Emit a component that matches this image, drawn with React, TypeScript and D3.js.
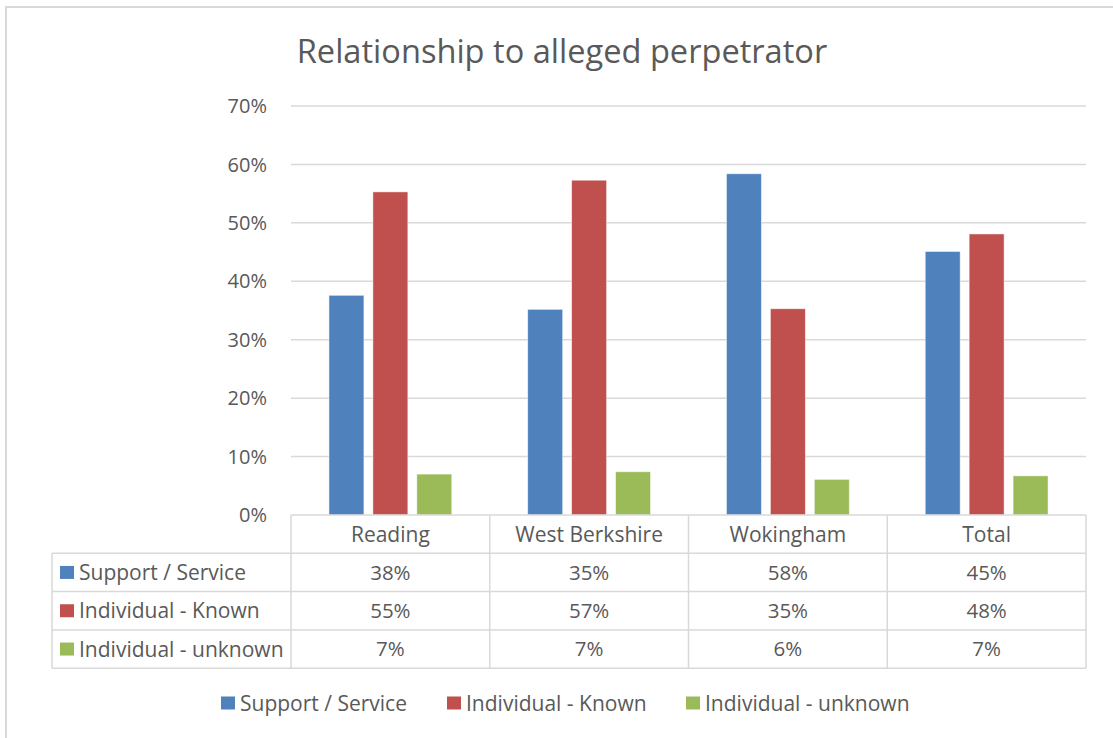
import React from "react";
import * as d3 from "d3";

const title = "Relationship to alleged perpetrator";
const categories = ["Reading", "West Berkshire", "Wokingham", "Total"];
const seriesNames = ["Support / Service", "Individual - Known", "Individual - unknown"];
const seriesColors = ["#4F81BD", "#C0504D", "#9BBB59"];
const supportService = [0.376, 0.352, 0.584, 0.451];
const individualKnown = [0.553, 0.573, 0.353, 0.481];
const individualUnknown = [0.07, 0.074, 0.061, 0.067];
const yTicks = [0, 0.1, 0.2, 0.3, 0.4, 0.5, 0.6, 0.7];

const seriesValues = [supportService, individualKnown, individualUnknown];

const W = 1113;
const H = 738;
const FONT = "'Open Sans', sans-serif";
const TXT = "#595959";
const GRID = "#d9d9d9";

export default function App() {
  const plotLeft = 291;
  const plotRight = 1086;
  const y0 = 515;
  const yTop = 106;
  const tableLeft = 52;
  const rowH = 38.3;

  const x = d3.scaleBand<string>().domain(categories).range([plotLeft, plotRight]).paddingInner(0).paddingOuter(0);
  const xs = d3
    .scaleBand<string>()
    .domain(seriesNames)
    .range([0, x.bandwidth()])
    .paddingInner(0.2045)
    .paddingOuter(0.864);
  const y = d3.scaleLinear().domain([0, 0.7]).range([y0, yTop]);
  const fmt = d3.format(".0%");

  const headerTop = y0;
  const rowTops = [0, 1, 2, 3].map((i) => headerTop + i * rowH);
  const tableBottom = headerTop + 4 * rowH;
  const colEdges = [...categories.map((c) => x(c) as number), plotRight];

  const legendItems = [
    { name: seriesNames[0], x: 221 },
    { name: seriesNames[1], x: 447 },
    { name: seriesNames[2], x: 686 },
  ];

  return (
    <svg width={W} height={H} style={{ display: "block", position: "absolute", left: 0, top: 0 }} fontFamily={FONT}>
      <rect x={0} y={0} width={W} height={H} fill="#fff" />
      <rect x={6} y={7} width={W + 20} height={H + 20} fill="none" stroke={GRID} strokeWidth={2} />
      <text x={562} y={63} textAnchor="middle" fontSize={32.6} fill={TXT}>
        {title}
      </text>

      {yTicks.map((t) => (
        <g key={t}>
          {t > 0 && <line x1={plotLeft} x2={plotRight} y1={y(t)} y2={y(t)} stroke={GRID} strokeWidth={1.5} />}
          <text x={267} y={y(t)} dy="0.36em" textAnchor="end" fontSize={20} fill={TXT}>
            {fmt(t)}
          </text>
        </g>
      ))}

      {categories.map((c, ci) => (
        <g key={c} transform={`translate(${x(c)},0)`}>
          {seriesNames.map((s, si) => {
            const v = seriesValues[si][ci];
            return (
              <rect
                key={s}
                x={xs(s)}
                y={y(v)}
                width={xs.bandwidth()}
                height={y0 - y(v)}
                fill={seriesColors[si]}
                stroke="#ffffff"
                strokeOpacity={0.6}
                strokeWidth={0.8}
              />
            );
          })}
        </g>
      ))}

      <g stroke={GRID} strokeWidth={1.5} fill="none">
        <line x1={plotLeft} x2={plotRight} y1={headerTop} y2={headerTop} />
        {rowTops.slice(1).map((ry) => (
          <line key={ry} x1={tableLeft} x2={plotRight} y1={ry} y2={ry} />
        ))}
        <line x1={tableLeft} x2={plotRight} y1={tableBottom} y2={tableBottom} />
        <line x1={tableLeft} x2={tableLeft} y1={rowTops[1]} y2={tableBottom} />
        {colEdges.map((cx) => (
          <line key={cx} x1={cx} x2={cx} y1={headerTop} y2={tableBottom} />
        ))}
      </g>
      {categories.map((c) => (
        <text
          key={c}
          x={(x(c) as number) + x.bandwidth() / 2}
          y={headerTop + rowH / 2}
          dy="0.36em"
          textAnchor="middle"
          fontSize={21}
          fill={TXT}
        >
          {c}
        </text>
      ))}
      {seriesNames.map((s, si) => (
        <g key={s}>
          <rect x={60} y={rowTops[si + 1] + rowH / 2 - 6.5} width={14} height={13} fill={seriesColors[si]} />
          <text x={79} y={rowTops[si + 1] + rowH / 2} dy="0.36em" fontSize={21} fill={TXT}>
            {s}
          </text>
          {categories.map((c, ci) => (
            <text
              key={c}
              x={(x(c) as number) + x.bandwidth() / 2}
              y={rowTops[si + 1] + rowH / 2}
              dy="0.36em"
              textAnchor="middle"
              fontSize={20.5}
              fill={TXT}
            >
              {fmt(seriesValues[si][ci])}
            </text>
          ))}
        </g>
      ))}

      {legendItems.map((it, i) => (
        <g key={it.name}>
          <rect x={it.x} y={696.5} width={14} height={13} fill={seriesColors[i]} />
          <text x={it.x + 19} y={703} dy="0.36em" fontSize={21} fill={TXT}>
            {it.name}
          </text>
        </g>
      ))}
    </svg>
  );
}
